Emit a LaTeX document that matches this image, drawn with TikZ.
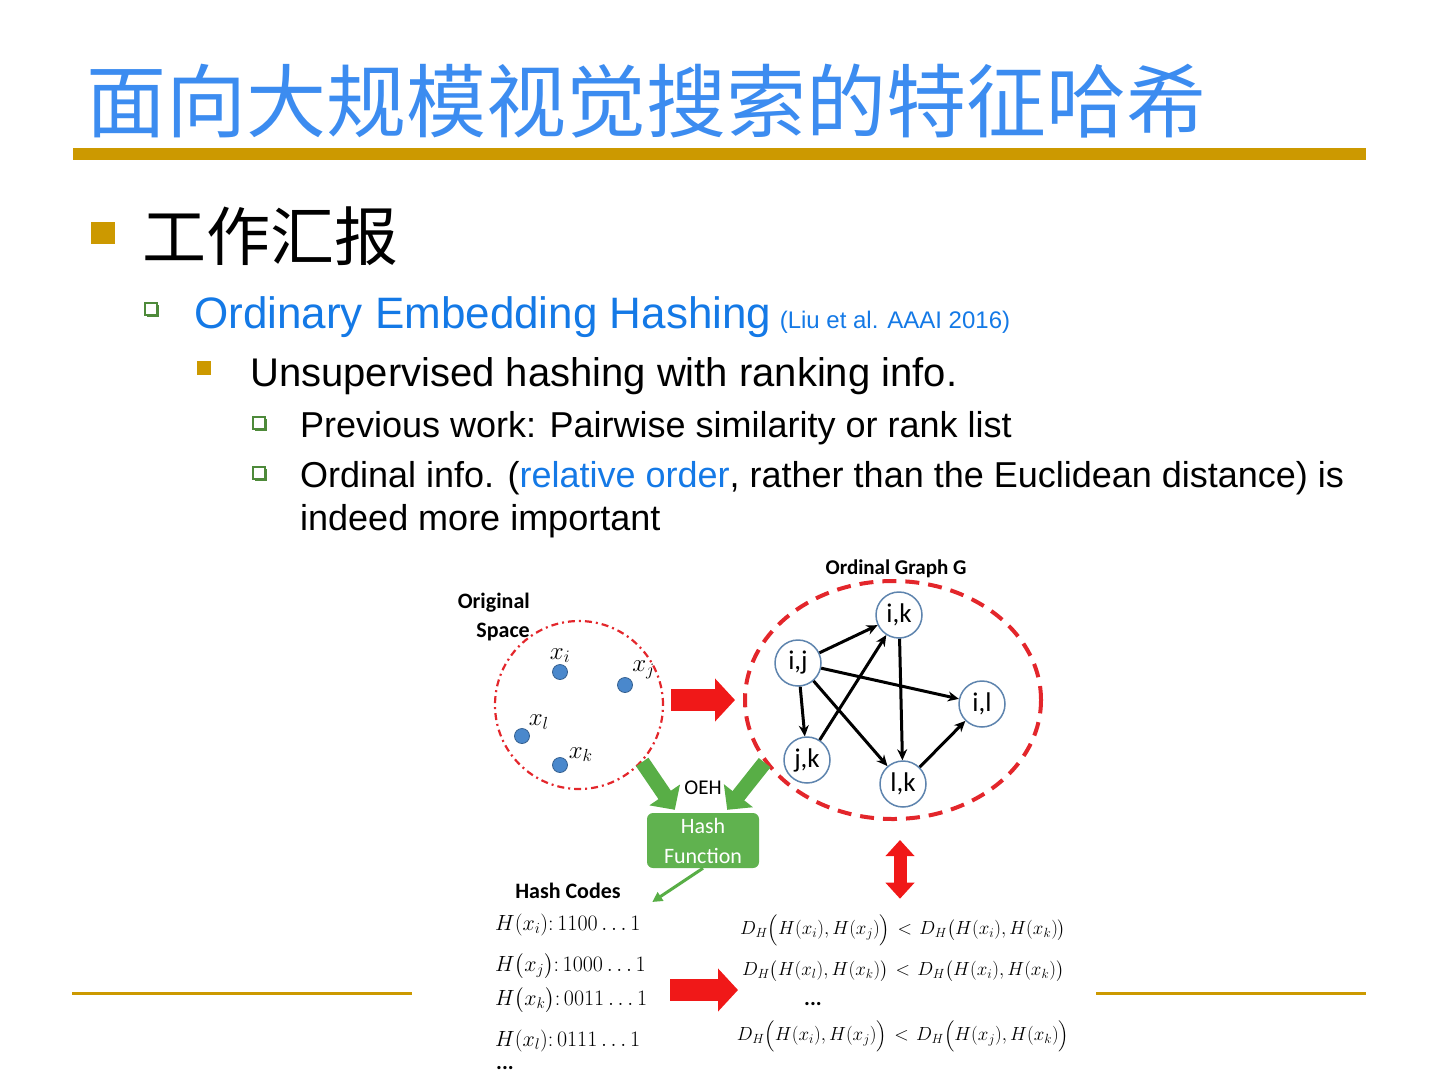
\documentclass[tikz,border=0pt]{standalone}
\usepackage{fix-cm}
\usepackage{amsmath}
\usepackage{fontspec}
\setmainfont{Liberation Sans}
\newfontfamily\cjk{Noto Sans CJK SC}
\newfontfamily\cali{Carlito}
\usepackage{tikz}
\usetikzlibrary{positioning, calc, arrows.meta, shapes.geometric, shadows}
\definecolor{slidegold}{HTML}{CC9900}
\definecolor{titleblue}{HTML}{3C8CF0}
\definecolor{textblue}{HTML}{1479E6}
\definecolor{boxgreen}{HTML}{4E8A3A}
\definecolor{oehgreen}{HTML}{58AE46}
\definecolor{redline}{HTML}{E3262B}
\definecolor{redarrow}{HTML}{F01818}
\definecolor{dotblue}{HTML}{4A88CC}
\definecolor{nodeedge}{HTML}{5E84AE}
\newcommand{\fsz}[1]{\fontsize{#1}{#1}\selectfont}
\newcommand{\lt}{\mskip2mu<\mskip2mu}

\begin{document}
\begin{tikzpicture}[x=1pt, y=-1pt, >=Stealth,
    txt/.style={anchor=base west, inner sep=0pt},
    goldsq/.style={fill=slidegold, inner sep=0pt},
    boxbullet/.style={draw=boxgreen, line width=1.6pt, fill=white, minimum size=12pt,
        inner sep=0pt, drop shadow={shadow xshift=2pt, shadow yshift=-2pt, fill=boxgreen, opacity=1}},
    dot/.style={circle, fill=dotblue, draw=dotblue!70!black, line width=0.8pt, minimum size=15pt, inner sep=0pt},
    dotlbl/.style={font=\fsz{25}, inner sep=1pt},
    gnode/.style={circle, draw=nodeedge, line width=1.5pt, fill=white, minimum size=46pt,
        inner sep=0pt, font=\cali\fsz{27}},
    gedge/.style={->, line width=3pt, -{Stealth[length=11pt, width=10pt]}},
    redblock/.style={draw=redarrow, line width=22pt, -{Triangle[length=20pt, width=42pt]}},
    greenblock/.style={draw=oehgreen, line width=15pt, -{Triangle[length=18pt, width=36pt]}},
    greenthin/.style={draw=oehgreen, line width=3pt, -{Triangle[length=10pt, width=10pt]}},
    code/.style={anchor=west, inner sep=0pt, font=\fsz{22}},
    eq/.style={inner sep=0pt, font=\fsz{19}}]

    \useasboundingbox (0,0) rectangle (1440,1080);

    % --- Title ---
    \node[txt, text=titleblue] (title) at (86,131) {\cjk\fsz{80}面向大规模视觉搜索的特征哈希};
    \fill[slidegold] (73,148) rectangle (1366,160);

    % --- Bullets ---
    \node[goldsq, minimum width=24pt, minimum height=22pt] (b1) at (103,233) {};
    \node[txt] (lvl1) at (142,260) {\cjk\fsz{64}工作汇报};

    \node[boxbullet] (b2) at (151,309) {};
    \node[txt, text=textblue] (oeh) at (194,328) {\fsz{44}Ordinary Embedding Hashing};
    \node[text=textblue, right=8pt of oeh.base east, anchor=base west, inner sep=0pt] (cite)
        {\fsz{24}(Liu et al. AAAI 2016)};

    \node[goldsq, minimum size=14pt] (b3) at (204,368) {};
    \node[txt] (unsup) at (250,386) {\fsz{40}Unsupervised hashing with ranking info.};

    \node[boxbullet] (b4a) at (259,423) {};
    \node[txt] (prev) at (300,437) {\fsz{36}Previous work: Pairwise similarity or rank list};
    \node[boxbullet] (b4b) at (259,473) {};
    \node[txt] (ordinal) at (300,487) {\fsz{36}Ordinal info. (\textcolor{textblue}{relative order}, rather than the Euclidean distance) is};
    \node[txt] (ordinal2) at (300,530) {\fsz{36}indeed more important};

    % --- Bottom rules (broken by the figure) ---
    \draw[slidegold, line width=3pt] (72,993) -- (412,993);
    \draw[slidegold, line width=3pt] (1096,993) -- (1366,993);

    % --- Original space ---
    \node[circle, draw=redline, line width=2.2pt, dash pattern=on 7pt off 4pt on 2pt off 4pt,
        minimum size=168pt] (origspace) at (579,705) {};
    \node[anchor=east, align=right, font=\cali\bfseries\fsz{22}, inner sep=0pt] (origlbl) at (530,617)
        {Original\\[7pt]Space};
    \node[dot, label={[dotlbl]90:$x_i$}] (xi) at (560,672) {};
    \node[dot, label={[dotlbl]40:$x_j$}] (xj) at (625,685) {};
    \node[dot, label={[dotlbl]45:$x_l$}] (xl) at (522,736) {};
    \node[dot, label={[dotlbl]15:$x_k$}] (xk) at (560,765) {};

    % --- Ordinal graph ---
    \node[ellipse, draw=redline, line width=4pt, dash pattern=on 14pt off 9pt,
        minimum width=296pt, minimum height=238pt] (graphG) at (893,700) {};
    \node[font=\cali\bfseries\fsz{21}] (graphlbl) at (896,569) {Ordinal Graph G};
    \node[gnode] (ik) at (899,615) {i,k};
    \node[gnode] (ij) at (798,663) {i,j};
    \node[gnode] (il) at (982,704) {i,l};
    \node[gnode] (jk) at (807,760) {j,k};
    \node[gnode] (lk) at (903,784) {l,k};
    \draw[gedge] (ij) -- (ik);
    \draw[gedge] (ij) -- (il);
    \draw[gedge] (ij) -- (jk);
    \draw[gedge] (ij) -- (lk);
    \draw[gedge] (jk) -- (ik);
    \draw[gedge] (ik) -- (lk);
    \draw[gedge] (lk) -- (il);

    \draw[redblock] ($(origspace.east)+(7,-5)$) -- ($(graphG.west)+(-8,0)$);

    % --- Hash function ---
    \node[rounded corners=6pt, fill=oehgreen!95!white, minimum width=112pt, minimum height=55pt,
        text=white, align=center, font=\cali\fsz{22}, inner sep=0pt] (hashfn) at (703,840.5)
        {Hash\\[8pt]Function};
    \node[font=\cali\fsz{21}] (oehlbl) at (703,788) {OEH};
    \draw[greenblock] (origspace.-42) -- ($(hashfn.north west)+(28,-3)$);
    \draw[greenblock] (graphG.-154) -- ($(hashfn.north east)+(-32,-3)$);

    % --- Hash codes ---
    \node[font=\cali\bfseries\fsz{22}] (hashcodes) at (568,891) {Hash Codes};
    \draw[greenthin] (hashfn.south) -- ($(hashcodes.east)+(28,11)$);
    \node[code] (hci) at (495,925) {$H(x_i){:}\,1100\ldots1$};
    \node[code] (hcj) at (495,966) {$H\big(x_j\big){:}\,1000\ldots1$};
    \node[code] (hck) at (495,1000) {$H\big(x_k\big){:}\,0011\ldots1$};
    \node[code] (hcl) at (495,1041) {$H(x_l){:}\,0111\ldots1$};
    \node[code, font=\cali\bfseries\fsz{22}] (hcdots) at (496,1068) {...};

    % --- Hamming distance order ---
    \node[eq] (eqa) at (903,930) {$D_H\Big(H(x_i),H(x_j)\Big)\lt D_H\big(H(x_i),H(x_k)\big)$};
    \node[eq] (eqb) at (903,971) {$D_H\big(H(x_l),H(x_k)\big)\lt D_H\big(H(x_i),H(x_k)\big)$};
    \node[font=\cali\bfseries\fsz{22}] (eqdots) at (813,1004) {...};
    \node[eq] (eqc) at (903,1036) {$D_H\Big(H(x_i),H(x_j)\Big)\lt D_H\Big(H(x_j),H(x_k)\Big)$};

    \coordinate (codesR) at (670,990);
    \coordinate (eqL) at (738,990);
    \draw[redblock] (codesR) -- (eqL);
    \draw[redblock, line width=13pt, {Triangle[length=16pt, width=28pt]}-{Triangle[length=16pt, width=28pt]}]
        ($(graphG.south)+(7,19)$) -- ($(eqa.north)+(-3,-14)$);

\end{tikzpicture}
\end{document}
